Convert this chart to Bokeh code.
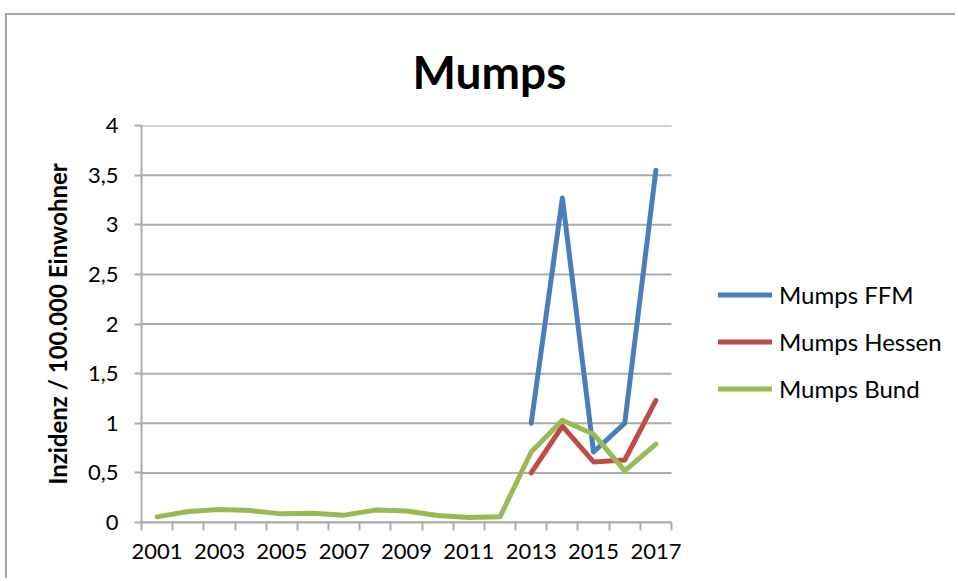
import numpy as np
from bokeh.plotting import figure
from bokeh.models import (FixedTicker, CustomJSTickFormatter, Legend, LegendItem,
                          ColumnDataSource, Range1d, Title)
from bokeh.embed import file_html
from bokeh.resources import INLINE

years = list(range(2001, 2018))
ffm = [np.nan] * 12 + [1.0, 3.27, 0.71, 1.0, 3.55]
hessen = [np.nan] * 12 + [0.50, 0.97, 0.61, 0.63, 1.23]
bund = [0.057, 0.11, 0.13, 0.12, 0.087, 0.094, 0.074, 0.125, 0.115, 0.07, 0.05, 0.057,
        0.71, 1.03, 0.89, 0.52, 0.79]
series_names = ["Mumps FFM", "Mumps Hessen", "Mumps Bund"]
colors = ["#4a7ebb", "#be4b48", "#98b954"]
y_ticks = [0, 0.5, 1, 1.5, 2, 2.5, 3, 3.5, 4]
x_label_years = [2001, 2003, 2005, 2007, 2009, 2011, 2013, 2015, 2017]

FONT = "Lato"
GRID = "#ababab"

# layout (pixels)
W, H = 950, 565
MB_LEFT, MB_RIGHT, MB_TOP, MB_BOTTOM = 134, 5, 110, 58
PLOT_W = 530          # width of the category area in the reference
frame_w = W - MB_LEFT - MB_RIGHT

x_start = years[0] - 0.5
x_cat_end = years[-1] + 0.5
# frame is wider than the category area so the legend (inside) is not clipped
x_end = x_start + (x_cat_end - x_start) * frame_w / PLOT_W

p = figure(width=W, height=H, output_backend="svg", toolbar_location=None,
           x_range=Range1d(x_start, x_end), y_range=Range1d(y_ticks[0], y_ticks[-1]),
           min_border_left=MB_LEFT, min_border_right=MB_RIGHT, min_border_top=MB_TOP,
           min_border_bottom=MB_BOTTOM)
p.title = Title(text="Mumps", text_font=FONT, text_font_size="46px",
                text_font_style="bold", text_color="#000000", align="left",
                offset=271, standoff=53)
p.outline_line_color = None
p.styles = {"margin-left": "5px", "margin-top": "13px",
            "border-left": "2px solid #a6a6a6", "border-top": "2px solid #a6a6a6"}

# horizontal gridlines over the category area only
p.segment(x0=[x_start] * len(y_ticks), x1=[x_cat_end] * len(y_ticks),
          y0=y_ticks, y1=y_ticks, line_color=GRID, line_width=2)

src = ColumnDataSource(dict(x=years, ffm=ffm, hessen=hessen, bund=bund))
renderers = []
for key, c in zip(["ffm", "hessen", "bund"], colors):
    r = p.line("x", key, source=src, line_color=c, line_width=5,
               line_cap="round", line_join="round")
    renderers.append(r)

# axes
xa = p.xaxis[0]
xa.bounds = (x_start, x_cat_end)
xa.ticker = FixedTicker(ticks=x_label_years,
                        minor_ticks=[y - 0.5 for y in years] + [x_cat_end])
xa.major_tick_line_color = None
xa.minor_tick_line_color = GRID
xa.minor_tick_line_width = 2
xa.minor_tick_out = 8
xa.minor_tick_in = 0
xa.axis_line_color = GRID
xa.axis_line_width = 2
xa.major_label_text_font = FONT
xa.major_label_text_font_size = "22px"
xa.major_label_text_color = "#000000"
xa.major_label_standoff = 13

ya = p.yaxis[0]
ya.ticker = FixedTicker(ticks=y_ticks, minor_ticks=[])
ya.formatter = CustomJSTickFormatter(code="return tick.toString().replace('.', ',');")
ya.major_tick_line_color = GRID
ya.major_tick_line_width = 2
ya.major_tick_out = 7
ya.major_tick_in = 0
ya.minor_tick_line_color = None
ya.axis_line_color = GRID
ya.axis_line_width = 2
ya.major_label_text_font = FONT
ya.major_label_text_font_size = "22px"
ya.major_label_text_color = "#000000"
ya.major_label_standoff = 16
ya.axis_label = "Inzidenz / 100.000 Einwohner"
ya.axis_label_text_font = FONT
ya.axis_label_text_font_size = "24px"
ya.axis_label_text_font_style = "bold"
ya.axis_label_text_color = "#000000"
ya.axis_label_standoff = 13

p.xgrid.grid_line_color = None
p.ygrid.grid_line_color = None

legend = Legend(items=[LegendItem(label=n, renderers=[r]) for n, r in zip(series_names, renderers)],
                location=(577, 119), orientation="vertical",
                glyph_width=54, glyph_height=29, label_height=29, label_standoff=7,
                spacing=18, padding=0, margin=0,
                label_text_font=FONT, label_text_font_size="24px",
                label_text_color="#000000",
                border_line_color=None, background_fill_alpha=0)
p.add_layout(legend, "center")

open("out.html", "w").write(file_html(p, INLINE))
